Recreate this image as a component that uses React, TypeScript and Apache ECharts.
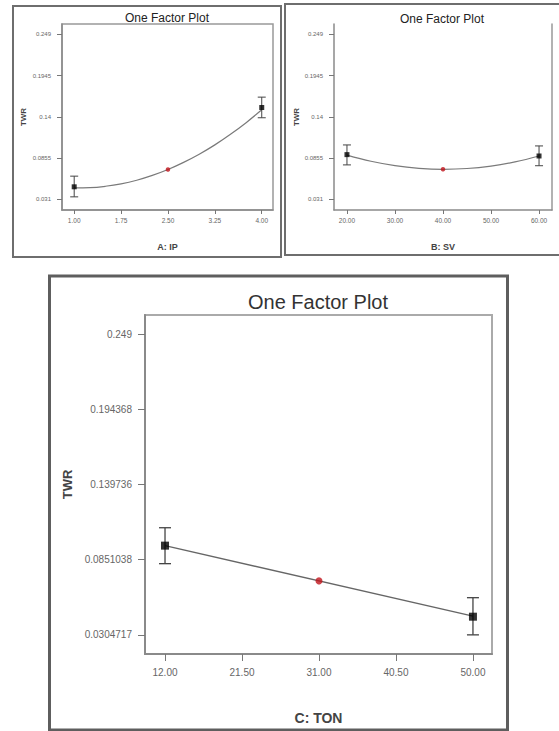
import React, { useEffect, useRef } from "react";
import * as echarts from "echarts";

// ---------- data ----------
const twrTickValuesTop = [0.031, 0.0855, 0.14, 0.1945, 0.249];
const twrTickLabelsTop = ["0.031", "0.0855", "0.14", "0.1945", "0.249"];
const twrTickValuesBottom = [0.0304717, 0.0851038, 0.139736, 0.194368, 0.249];
const twrTickLabelsBottom = ["0.0304717", "0.0851038", "0.139736", "0.194368", "0.249"];

// A: IP
const ipTicks = [1, 1.75, 2.5, 3.25, 4];
const ipTickLabels = ["1.00", "1.75", "2.50", "3.25", "4.00"];
const ipLevels = [1, 4];
const ipMeans = [0.0473, 0.1523];
const ipLow = [0.034, 0.1387];
const ipHigh = [0.0614, 0.166];
const ipCenter = [2.5, 0.0702];
const ipCurveX = [1, 1.25, 1.5, 1.75, 2, 2.25, 2.5, 2.75, 3, 3.25, 3.5, 3.75, 4];
const ipCurveY = [0.0459, 0.0462, 0.048, 0.0512, 0.056, 0.0624, 0.0702, 0.0796, 0.0904, 0.1028, 0.1168, 0.1322, 0.1492];

// B: SV
const svTicks = [20, 30, 40, 50, 60];
const svTickLabels = ["20.00", "30.00", "40.00", "50.00", "60.00"];
const svLevels = [20, 60];
const svMeans = [0.0899, 0.0881];
const svLow = [0.0763, 0.0752];
const svHigh = [0.1027, 0.1014];
const svCenter = [40, 0.0706];
const svCurveX = [20, 25, 30, 35, 40, 45, 50, 55, 60];
const svCurveY = [0.0892, 0.0811, 0.0753, 0.0718, 0.0705, 0.0715, 0.0748, 0.0803, 0.0881];

// C: TON
const tonTicks = [12, 21.5, 31, 40.5, 50];
const tonTickLabels = ["12.00", "21.50", "31.00", "40.50", "50.00"];
const tonLevels = [12, 50];
const tonMeans = [0.0953, 0.0437];
const tonLow = [0.0822, 0.0305];
const tonHigh = [0.1083, 0.0575];
const tonCenter = [31, 0.0697];
const tonLineX = [12, 50];
const tonLineY = [0.0953, 0.0441];

const FONT = "'Liberation Sans', Arial, sans-serif";

function lookup(values: number[], labels: string[]) {
  return (v: number) => {
    for (let i = 0; i < values.length; i++) {
      if (Math.abs(values[i] - v) < 1e-7) return labels[i];
    }
    return "";
  };
}

export default function App() {
  const ref = useRef<HTMLDivElement>(null);

  useEffect(() => {
    if (!ref.current) return;
    const chart = echarts.init(ref.current, undefined, { renderer: "svg" });

    const yMin = 0.0166;
    const yMax = 0.2628;

    const mkX = (
      gridIndex: number,
      min: number,
      max: number,
      ticks: number[],
      labels: string[],
      name: string,
      small: boolean
    ) => ({
      type: "value",
      gridIndex,
      min,
      max,
      name,
      nameLocation: "middle",
      nameGap: small ? 32 : 57,
      nameTextStyle: {
        fontFamily: FONT,
        fontWeight: "bold",
        fontSize: small ? 9 : 14,
        color: "#444",
      },
      splitLine: { show: false },
      axisLine: { show: true, onZero: false, lineStyle: { color: "#8a8a8a", width: small ? 1.5 : 2 } },
      axisTick: {
        show: true,
        length: small ? 4 : 7,
        customValues: ticks,
        lineStyle: { color: "#777", width: 1 },
      },
      axisLabel: {
        show: true,
        customValues: ticks,
        formatter: lookup(ticks, labels),
        fontFamily: FONT,
        fontSize: small ? 6.5 : 10,
        color: "#666",
        margin: small ? 7 : 13,
      },
    });

    const mkY = (
      gridIndex: number,
      ticks: number[],
      labels: string[],
      small: boolean,
      nameGap: number
    ) => ({
      type: "value",
      gridIndex,
      min: yMin,
      max: yMax,
      name: "TWR",
      nameLocation: "middle",
      nameGap,
      nameRotate: 90,
      nameTextStyle: {
        fontFamily: FONT,
        fontWeight: "bold",
        fontSize: small ? 8 : 13,
        color: "#444",
      },
      splitLine: { show: false },
      axisLine: { show: true, onZero: false, lineStyle: { color: "#8a8a8a", width: small ? 1.5 : 2 } },
      axisTick: {
        show: true,
        length: small ? 5 : 7,
        customValues: ticks,
        lineStyle: { color: "#777", width: 1 },
      },
      axisLabel: {
        show: true,
        customValues: ticks,
        formatter: lookup(ticks, labels),
        fontFamily: FONT,
        fontSize: small ? 6 : 10,
        color: "#666",
        margin: small ? 11 : 13,
      },
    });

    const errorSeries = (axisIndex: number, levels: number[], lo: number[], hi: number[], cap: number, width: number) => ({
      type: "custom",
      xAxisIndex: axisIndex,
      yAxisIndex: axisIndex,
      z: 3,
      data: levels.map((x, i) => [x, lo[i], hi[i]]),
      encode: { x: 0, y: [1, 2] },
      renderItem: (_params: any, api: any) => {
        const x = api.value(0);
        const pLo = api.coord([x, api.value(1)]);
        const pHi = api.coord([x, api.value(2)]);
        const style = { stroke: "#444", lineWidth: width };
        return {
          type: "group",
          children: [
            { type: "line", shape: { x1: pLo[0], y1: pLo[1], x2: pHi[0], y2: pHi[1] }, style },
            { type: "line", shape: { x1: pLo[0] - cap, y1: pLo[1], x2: pLo[0] + cap, y2: pLo[1] }, style },
            { type: "line", shape: { x1: pHi[0] - cap, y1: pHi[1], x2: pHi[0] + cap, y2: pHi[1] }, style },
          ],
        };
      },
    });

    const panelSeries = (
      axisIndex: number,
      curveX: number[],
      curveY: number[],
      levels: number[],
      means: number[],
      lo: number[],
      hi: number[],
      center: number[],
      small: boolean
    ) => [
      {
        type: "line",
        xAxisIndex: axisIndex,
        yAxisIndex: axisIndex,
        smooth: small ? 0.4 : false,
        showSymbol: false,
        symbol: "none",
        z: 2,
        lineStyle: { color: small ? "#7a7a7a" : "#666", width: small ? 1.2 : 1.5 },
        data: curveX.map((x, i) => [x, curveY[i]]),
      },
      errorSeries(axisIndex, levels, lo, hi, small ? 4 : 6, small ? 1 : 1.3),
      {
        type: "scatter",
        xAxisIndex: axisIndex,
        yAxisIndex: axisIndex,
        symbol: "rect",
        symbolSize: small ? 5 : 8,
        z: 4,
        itemStyle: { color: "#000" },
        data: levels.map((x, i) => [x, means[i]]),
      },
      {
        type: "scatter",
        xAxisIndex: axisIndex,
        yAxisIndex: axisIndex,
        symbol: "circle",
        symbolSize: small ? 4.5 : 7,
        z: 4,
        itemStyle: { color: "#c0141c" },
        data: [center],
      },
    ];

    const option: any = {
      animation: false,
      backgroundColor: "#fff",
      grid: [
        { left: 62, top: 24, width: 211, height: 186, show: true, borderColor: "#999", borderWidth: 1.5, backgroundColor: "transparent" },
        { left: 334, top: 24, width: 218, height: 186, show: false },
        { left: 145, top: 315, width: 347, height: 339, show: true, borderColor: "#aaa", borderWidth: 2, backgroundColor: "transparent" },
      ],
      xAxis: [
        mkX(0, 0.805, 4.18, ipTicks, ipTickLabels, "A: IP", true),
        mkX(1, 17.3, 62.7, svTicks, svTickLabels, "B: SV", true),
        mkX(2, 9.53, 52.35, tonTicks, tonTickLabels, "C: TON", false),
      ],
      yAxis: [
        mkY(0, twrTickValuesTop, twrTickLabelsTop, true, 35),
        mkY(1, twrTickValuesTop, twrTickLabelsTop, true, 26),
        mkY(2, twrTickValuesBottom, twrTickLabelsBottom, false, 60),
        {
          type: "value",
          gridIndex: 1,
          position: "right",
          min: yMin,
          max: yMax,
          axisLine: { show: true, onZero: false, lineStyle: { color: "#999", width: 1.5 } },
          axisTick: { show: false },
          axisLabel: { show: false },
          splitLine: { show: false },
        },
      ],
      series: [
        ...panelSeries(0, ipCurveX, ipCurveY, ipLevels, ipMeans, ipLow, ipHigh, ipCenter, true),
        ...panelSeries(1, svCurveX, svCurveY, svLevels, svMeans, svLow, svHigh, svCenter, true),
        ...panelSeries(2, tonLineX, tonLineY, tonLevels, tonMeans, tonLow, tonHigh, tonCenter, false),
      ],
      graphic: [
        {
          type: "rect",
          shape: { x: 13, y: 6, width: 268, height: 251 },
          style: { fill: "none", stroke: "#6e6e6e", lineWidth: 2 },
          z: 0,
        },
        {
          type: "rect",
          shape: { x: 285, y: 4, width: 280, height: 251 },
          style: { fill: "none", stroke: "#6e6e6e", lineWidth: 2 },
          z: 0,
        },
        {
          type: "rect",
          shape: { x: 49.5, y: 276, width: 458, height: 454 },
          style: { fill: "none", stroke: "#5e5e5e", lineWidth: 3 },
          z: 0,
        },
        {
          type: "text",
          x: 167,
          y: 18,
          z: 10,
          style: { text: "One Factor Plot", fontFamily: FONT, fontSize: 12, fill: "#222", align: "center", verticalAlign: "middle" },
        },
        {
          type: "text",
          x: 442,
          y: 19,
          z: 10,
          style: { text: "One Factor Plot", fontFamily: FONT, fontSize: 12, fill: "#222", align: "center", verticalAlign: "middle" },
        },
        {
          type: "text",
          x: 318,
          y: 302,
          z: 10,
          style: { text: "One Factor Plot", fontFamily: FONT, fontSize: 20, fill: "#333", align: "center", verticalAlign: "middle" },
        },
      ],
    };

    chart.setOption(option);
    return () => chart.dispose();
  }, []);

  return (
    <div
      ref={ref}
      style={{ position: "absolute", left: 0, top: 0, width: 559, height: 731, background: "#fff" }}
    />
  );
}
